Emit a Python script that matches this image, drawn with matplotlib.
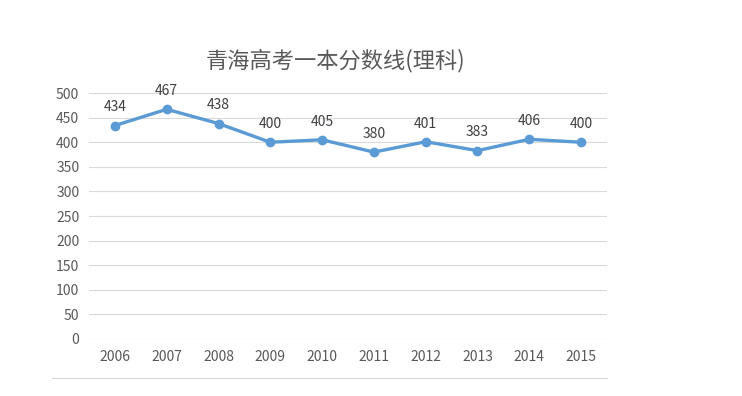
import matplotlib.pyplot as plt

plt.rcParams['font.family'] = ['Noto Sans CJK SC', 'DejaVu Sans']

years = ["2006", "2007", "2008", "2009", "2010", "2011", "2012", "2013", "2014", "2015"]
scores = [434, 467, 438, 400, 405, 380, 401, 383, 406, 400]
y_ticks = [0, 50, 100, 150, 200, 250, 300, 350, 400, 450, 500]

TEXT = "#595959"
LINE = "#5B9BD5"
GRID = "#D9D9D9"

fig = plt.figure(figsize=(7.42, 3.96), dpi=100)
ax = fig.add_axes([0.12, 0.144, 0.698, 0.621])

x = list(range(len(years)))
ax.plot(x, scores, color=LINE, linewidth=2.4, marker="o", markersize=6,
        markerfacecolor=LINE, markeredgecolor=LINE, zorder=3)
for xi, v in zip(x, scores):
    ax.annotate(str(v), (xi, v), xytext=(0, 8), textcoords="offset points",
                ha="center", va="bottom", fontsize=10, color="#404040")

ax.set_xlim(-0.5, len(years) - 0.5)
ax.set_ylim(0, 500)
ax.set_yticks(y_ticks)
ax.set_xticks(x)
ax.set_xticklabels(years)
ax.tick_params(axis="both", length=0, labelsize=10, colors=TEXT)
ax.tick_params(axis="x", pad=8)
ax.tick_params(axis="y", pad=7)
ax.grid(axis="y", color=GRID, linewidth=0.8)
ax.set_axisbelow(True)
for s in ax.spines.values():
    s.set_visible(False)

fig.text(0.452, 0.848, "青海高考一本分数线(理科)", ha="center", va="center",
         fontsize=16, color=TEXT)

# faint frame line of the page below the chart
fig.add_artist(plt.Line2D([0.07, 0.818], [0.045, 0.045], color=GRID, linewidth=0.8,
                          transform=fig.transFigure))

fig.savefig("out.png", dpi=100)
